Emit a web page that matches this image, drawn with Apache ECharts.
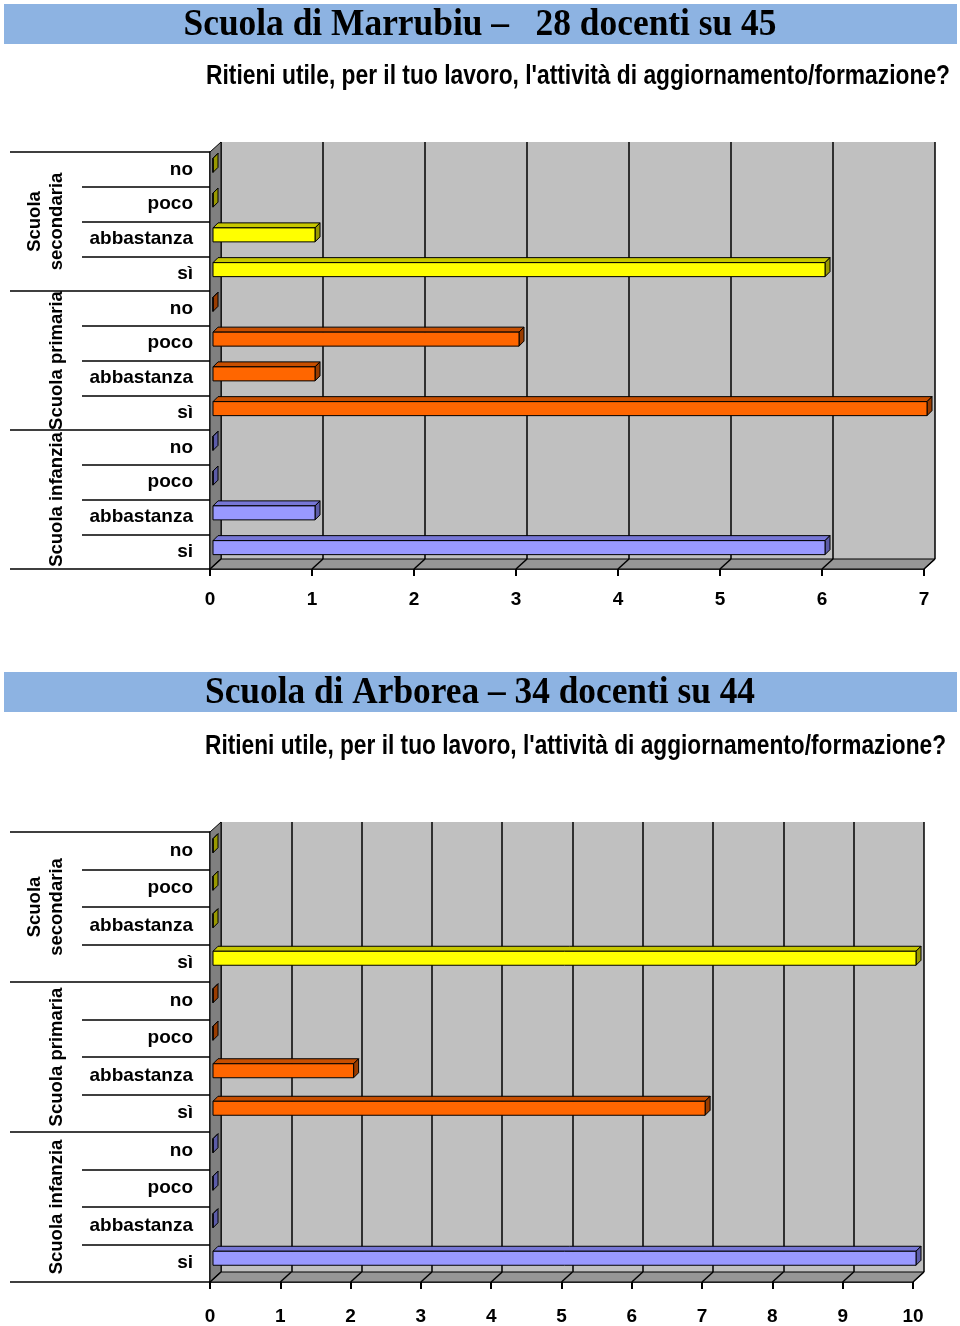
<!DOCTYPE html>
<html><head><meta charset="utf-8">
<script src="https://cdn.jsdelivr.net/npm/echarts@6/dist/echarts.min.js"></script>
<style>html,body{margin:0;padding:0;background:#fff}#c{width:960px;height:1326px}</style>
</head><body><div id="c"></div>
<script>
// ---------- data ----------
const categories = ['si','abbastanza','poco','no','sì','abbastanza','poco','no','sì','abbastanza','poco','no'];
const groupNames = ['Scuola infanzia','Scuola primaria','Scuola\nsecondaria'];
const titles = ['Scuola di Marrubiu –   28 docenti su 45', 'Scuola di Arborea – 34 docenti su 44'];
const question = "Ritieni utile, per il tuo lavoro, l'attività di aggiornamento/formazione?";
const marrubiuValues = [6, 1, 0, 0, 7, 1, 3, 0, 6, 1, 0, 0];
const arboreaValues  = [10, 0, 0, 0, 7, 2, 0, 0, 10, 0, 0, 0];
const marrubiuTicks = [0, 1, 2, 3, 4, 5, 6, 7];
const arboreaTicks  = [0, 1, 2, 3, 4, 5, 6, 7, 8, 9, 10];

// ---------- style / layout ----------
const groupFill = [
  {front:'#9999FF', top:'#7777D6', side:'#5C5CA8'},
  {front:'#FF6600', top:'#C84F00', side:'#993C00'},
  {front:'#FFFF00', top:'#C8C800', side:'#999900'}
];
const layouts = [
  {left:210, top:152, width:714, height:417, dx:11, dy:10, barShift:-4, xLabelMargin:21,
   bandY:4, titleY:25, titleW:593, titleX:480, subX:206, subY:77, subW:744},
  {left:210, top:832, width:703, height:450, dx:11, dy:10, barShift:-5, xLabelMargin:25,
   bandY:672, titleY:693, titleW:550, titleX:480, subX:205, subY:747, subW:741}
];
const charts = [
  {values: marrubiuValues, ticks: marrubiuTicks},
  {values: arboreaValues, ticks: arboreaTicks}
];

function fontAvailable(name){
  const c = document.createElement('canvas').getContext('2d');
  const t = 'abbastanza Scuola 0123456';
  c.font = 'bold 20px monospace'; const a = c.measureText(t).width;
  c.font = 'bold 20px "' + name + '", monospace'; const b = c.measureText(t).width;
  c.font = 'bold 20px serif'; const a2 = c.measureText(t).width;
  c.font = 'bold 20px "' + name + '", serif'; const b2 = c.measureText(t).width;
  return a !== b || a2 !== b2;
}
const hasNarrow = fontAvailable('Liberation Sans Narrow');
const labelFont = hasNarrow ? '"Liberation Sans Narrow", "Liberation Sans", Arial' : '"Liberation Sans", Arial';
const catSize = hasNarrow ? 23 : 19;
const grpSize = hasNarrow ? 22 : 18.5;
const numSize = hasNarrow ? 21 : 19;

function measure(font, text){
  const c = document.createElement('canvas').getContext('2d');
  c.font = font; return c.measureText(text).width;
}

const grid = [], xAxis = [], yAxis = [], series = [], graphic = [];

charts.forEach((ch, i) => {
  const L = layouts[i];
  const maxV = ch.ticks[ch.ticks.length - 1];
  grid.push({left:L.left, top:L.top, width:L.width, height:L.height, show:false,
             containLabel:false, outerBoundsMode:'none'});
  grid.push({left:L.left + L.dx, top:L.top - L.dy, width:L.width, height:L.height, show:true,
             backgroundColor:'#C0C0C0', borderWidth:0, containLabel:false, outerBoundsMode:'none'});
  // front value axis
  xAxis.push({type:'value', gridIndex:2*i, position:'bottom', min:0, max:maxV, interval:1,
    axisLine:{show:true, lineStyle:{color:'#000', width:1.5}},
    axisTick:{show:true, length:7, lineStyle:{color:'#000', width:2}},
    axisLabel:{show:true, margin:L.xLabelMargin, fontFamily:labelFont, fontWeight:'bold', fontSize:numSize, color:'#000'},
    splitLine:{show:false}});
  // back wall axis (gridlines)
  xAxis.push({type:'value', gridIndex:2*i+1, position:'bottom', min:0, max:maxV, interval:1,
    axisLine:{show:false}, axisTick:{show:false}, axisLabel:{show:false},
    splitLine:{show:true, lineStyle:{color:'#000', width:1.5}}});
  // category axis
  yAxis.push({type:'category', gridIndex:2*i, position:'left', offset:0, data:categories,
    axisLine:{show:true, lineStyle:{color:'#000', width:1.5}},
    axisTick:{show:true, length:128, interval:0, lineStyle:{color:'#000', width:1.5}},
    axisLabel:{show:true, interval:0, margin:17, fontFamily:labelFont, fontWeight:'bold', fontSize:catSize, color:'#000'}});
  // group axis
  yAxis.push({type:'category', gridIndex:2*i, position:'left', offset:0, data:groupNames,
    axisLine:{show:false},
    axisTick:{show:true, length:200, interval:0, lineStyle:{color:'#000', width:1.5}},
    axisLabel:{show:true, interval:0, rotate:90, margin:142, fontFamily:labelFont, fontWeight:'bold',
               fontSize:grpSize, lineHeight:22, color:'#000'}});
  yAxis.push({type:'value', gridIndex:2*i+1, show:false, min:0, max:1});

  const dx = L.dx, dy = L.dy;
  // floor, left wall, floor tick diagonals
  series.push({type:'custom', xAxisIndex:2*i, yAxisIndex:3*i, z:1, silent:true,
    data: ch.ticks.map(t => [t, 0]),
    renderItem: function(params, api){
      const cs = params.coordSys;
      const yb = cs.y + cs.height;
      const px = api.coord([api.value(0), 0])[0];
      const children = [];
      if (params.dataIndex === 0) {
        children.push({type:'polygon', shape:{points:[[cs.x,cs.y],[cs.x,yb],[cs.x+dx,yb-dy],[cs.x+dx,cs.y-dy]]},
          style:{fill:'#808080', stroke:'#000', lineWidth:1}});
        children.push({type:'polygon', shape:{points:[[cs.x,yb],[cs.x+cs.width,yb],[cs.x+cs.width+dx,yb-dy],[cs.x+dx,yb-dy]]},
          style:{fill:'#969696', stroke:'#000', lineWidth:1}});
      }
      children.push({type:'line', shape:{x1:px, y1:yb, x2:px+dx, y2:yb-dy}, style:{stroke:'#000', lineWidth:1.5}});
      return {type:'group', children};
    }});
  // 3D bars
  const shift = L.barShift;
  series.push({type:'custom', xAxisIndex:2*i, yAxisIndex:3*i, z:3, silent:true,
    data: ch.values.map((v, k) => [v, k, Math.floor(k / 4)]),
    renderItem: function(params, api){
      const v = api.value(0), c = api.value(1), g = api.value(2);
      const p0 = api.coord([0, c]), p1 = api.coord([v, c]);
      const h = 14, off = 3, d = 5;
      const y = p0[1] + shift - h / 2;
      const x0 = p0[0] + off, x1 = p1[0] + off;
      const col = groupFill[g];
      const st = (f) => ({fill:f, stroke:'#000', lineWidth:1});
      return {type:'group', children:[
        {type:'polygon', shape:{points:[[x0,y],[x1,y],[x1+d,y-d],[x0+d,y-d]]}, style:st(col.top)},
        {type:'polygon', shape:{points:[[x1,y],[x1+d,y-d],[x1+d,y+h-d],[x1,y+h]]}, style:st(col.side)},
        {type:'rect', shape:{x:x0, y:y, width:Math.max(x1-x0,0), height:h}, style:st(col.front)}
      ]};
    }});

  // header band & texts
  graphic.push({type:'rect', shape:{x:4, y:L.bandY, width:953, height:40}, style:{fill:'#8DB3E2'}, z:0});
  const tFont = 'bold 38px "Liberation Serif", "Times New Roman", serif';
  const tw = measure(tFont, titles[i]);
  graphic.push({type:'text', x:L.titleX, y:L.titleY, scaleX:L.titleW / tw, z:5,
    style:{text:titles[i], font:tFont, fill:'#000', textAlign:'center', textVerticalAlign:'middle'}});
  const sFont = 'bold 27px "Liberation Sans", Arial, sans-serif';
  const sw = measure(sFont, question);
  graphic.push({type:'text', x:L.subX, y:L.subY, scaleX:L.subW / sw, z:5,
    style:{text:question, font:sFont, fill:'#000', textAlign:'left', textVerticalAlign:'middle'}});
});

const chart = echarts.init(document.getElementById('c'), null, {renderer:'canvas'});
chart.setOption({
  animation:false,
  backgroundColor:'#FFFFFF',
  grid, xAxis, yAxis, series, graphic
});
</script>
</body></html>
